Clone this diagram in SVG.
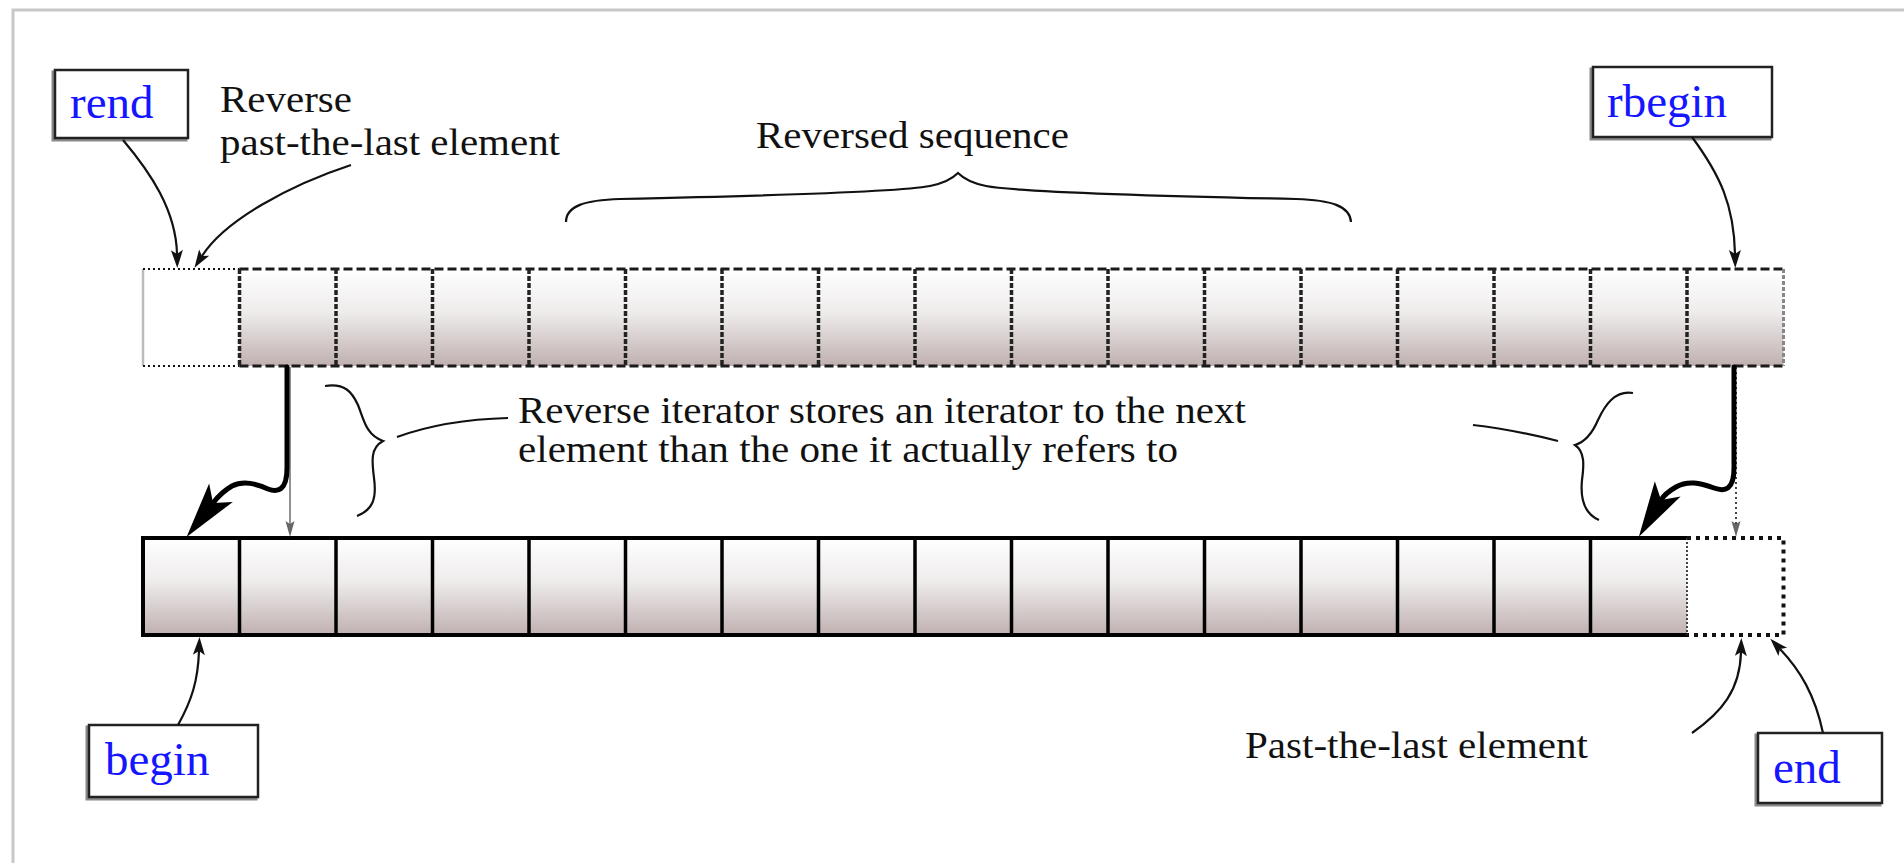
<svg xmlns="http://www.w3.org/2000/svg" width="1904" height="863" viewBox="0 0 1904 863">
<style>
.ann{font-family:"Liberation Serif","Times New Roman",serif;font-size:38px;fill:#111}
.lbl{font-family:"Liberation Serif","Times New Roman",serif;font-size:47px;fill:#1515ff}
.box{fill:#fff;stroke:#222;stroke-width:2.5}
.shadow{fill:none;stroke:#8a8a8a;stroke-width:3}
.thin{fill:none;stroke:#111;stroke-width:2.2}
.heavy{fill:none;stroke:#000;stroke-width:5;stroke-linecap:round;stroke-linejoin:round}
.dash{fill:none;stroke:#1a1a1a;stroke-width:2.8;stroke-dasharray:9 4}
.vdash{fill:none;stroke:#222;stroke-width:3.5;stroke-dasharray:5 2}
.dot{fill:none;stroke:#111;stroke-width:2;stroke-dasharray:2 3}
.solid{fill:none;stroke:#000;stroke-width:4}
.div{fill:none;stroke:#000;stroke-width:3.5}
.thickdot{fill:none;stroke:#111;stroke-width:4;stroke-dasharray:4 5}
</style>
<defs>
<linearGradient id="g" x1="0" y1="0" x2="0" y2="1">
<stop offset="0" stop-color="#ffffff"/>
<stop offset="0.45" stop-color="#eeebeb"/>
<stop offset="1" stop-color="#c0b0b0"/>
</linearGradient>
<marker id="sm" markerUnits="userSpaceOnUse" markerWidth="20" markerHeight="14" refX="4" refY="0" orient="auto" overflow="visible">
<path d="M0,-6 L18,0 L0,6 L4,0 Z" fill="#111"/>
</marker>
<marker id="gm" markerUnits="userSpaceOnUse" markerWidth="18" markerHeight="10" refX="3" refY="0" orient="auto" overflow="visible">
<path d="M0,-4.5 L16,0 L0,4.5 L3,0 Z" fill="#666"/>
</marker>
<marker id="big" markerUnits="userSpaceOnUse" markerWidth="60" markerHeight="34" refX="13" refY="0" orient="auto" overflow="visible">
<path d="M0,-15 L56,0 L0,15 L13,0 Z" fill="#000"/>
</marker>
</defs>

<rect x="13" y="10" width="2000" height="1000" fill="none" stroke="#c8c8c8" stroke-width="3"/>

<g id="top-array">
<rect x="239.5" y="269" width="1544" height="97" fill="url(#g)"/>
<line x1="143" y1="269" x2="143" y2="366" stroke="#bbb" stroke-width="2.5"/>
<path class="dot" d="M143,269 H239.5 M143,366 H239.5"/>
<path class="dash" d="M239.5,269 H1783.5 M239.5,366 H1783.5"/>
<path class="vdash" d="M239.5,269 V366 M336,269 V366 M432.5,269 V366 M529,269 V366 M625.5,269 V366 M722,269 V366 M818.5,269 V366 M915,269 V366 M1011.5,269 V366 M1108,269 V366 M1204.5,269 V366 M1301,269 V366 M1397.5,269 V366 M1494,269 V366 M1590.5,269 V366 M1687,269 V366"/>
<path d="M1783.5,269 V366" fill="none" stroke="#888" stroke-width="3" stroke-dasharray="4 2"/>
</g>

<g id="bottom-array">
<rect x="143" y="538" width="1544" height="97" fill="url(#g)"/>
<path class="solid" d="M1687,538 H143 V635 H1687"/>
<path class="div" d="M239.5,538 V635 M336,538 V635 M432.5,538 V635 M529,538 V635 M625.5,538 V635 M722,538 V635 M818.5,538 V635 M915,538 V635 M1011.5,538 V635 M1108,538 V635 M1204.5,538 V635 M1301,538 V635 M1397.5,538 V635 M1494,538 V635 M1590.5,538 V635"/>
<path d="M1687,538 V635" fill="none" stroke="#444" stroke-width="2" stroke-dasharray="2 2"/>
<path class="thickdot" d="M1687,538 H1783.5 V635 H1687"/>
</g>

<g id="rend">
<rect class="shadow" x="53" y="72" width="133" height="68"/>
<rect class="box" x="55" y="70" width="133" height="68"/>
<text class="lbl" x="70" y="118">rend</text>
</g>
<g id="rbegin">
<rect class="shadow" x="1591" y="69" width="179" height="70"/>
<rect class="box" x="1593" y="67" width="179" height="70"/>
<text class="lbl" x="1607" y="117">rbegin</text>
</g>
<g id="begin">
<rect class="shadow" x="87" y="727" width="169" height="72"/>
<rect class="box" x="89" y="725" width="169" height="72"/>
<text class="lbl" x="105" y="775">begin</text>
</g>
<g id="end">
<rect class="shadow" x="1756" y="735" width="124" height="70"/>
<rect class="box" x="1758" y="733" width="124" height="70"/>
<text class="lbl" x="1773" y="783">end</text>
</g>

<g id="labels">
<text class="ann" x="220" y="112" textLength="132" lengthAdjust="spacingAndGlyphs">Reverse</text>
<text class="ann" x="220" y="155" textLength="340" lengthAdjust="spacingAndGlyphs">past-the-last element</text>
<text class="ann" x="756" y="148" textLength="313" lengthAdjust="spacingAndGlyphs">Reversed sequence</text>
<text class="ann" x="518" y="423" textLength="728" lengthAdjust="spacingAndGlyphs">Reverse iterator stores an iterator to the next</text>
<text class="ann" x="518" y="462" textLength="660" lengthAdjust="spacingAndGlyphs">element than the one it actually refers to</text>
<text class="ann" x="1245" y="758" textLength="343" lengthAdjust="spacingAndGlyphs">Past-the-last element</text>
</g>

<g id="braces" fill="none" stroke="#111" stroke-width="2.2">
<path d="M566,222 C566,206 585,200 620,199 C760,196 900,192 930,186 C945,183 953,178 958,173 C963,178 971,183 986,186 C1016,192 1156,196 1296,199 C1331,200 1350,206 1351,222"/>
<path d="M325,386 C345,383 352,392 358,405 C364,420 366,435 383,441 C370,448 372,462 374,478 C377,500 372,510 357,516"/>
<path d="M397,437 C430,425 470,419 508,418"/>
<path d="M1633,393 C1615,390 1605,405 1598,420 C1592,434 1585,442 1575,445 C1585,452 1584,465 1582,480 C1580,500 1585,514 1599,520"/>
<path d="M1473,425 C1500,428 1530,434 1558,441"/>
</g>

<g id="connectors">
<path class="thin" d="M123,140 C150,172 176,210 177,254" marker-end="url(#sm)"/>
<path class="thin" d="M351,165 C290,185 225,220 202,256" marker-end="url(#sm)"/>
<path class="thin" d="M1692,137 C1720,175 1734,205 1735,254" marker-end="url(#sm)"/>
<path class="thin" d="M178,725 C192,700 198,680 199,651" marker-end="url(#sm)"/>
<path class="thin" d="M1692,733 C1722,712 1740,690 1741,652" marker-end="url(#sm)"/>
<path class="thin" d="M1823,733 C1815,695 1800,670 1780,649" marker-end="url(#sm)"/>
<path d="M290,367 V524" fill="none" stroke="#777" stroke-width="1.6" marker-end="url(#gm)"/>
<path d="M1736,367 V524" fill="none" stroke="#444" stroke-width="2" stroke-dasharray="2 3" marker-end="url(#gm)"/>
<path class="heavy" d="M287,367 L287,468 C287,490 278,493 268,489 C256,484 244,480 232,486 C225,490 220,494 213,503" marker-end="url(#big)"/>
<path class="heavy" d="M1734,367 L1734,468 C1734,490 1725,492 1714,488 C1700,483 1688,480 1676,487 C1669,491 1664,495 1661,500" marker-end="url(#big)"/>
</g>
</svg>
